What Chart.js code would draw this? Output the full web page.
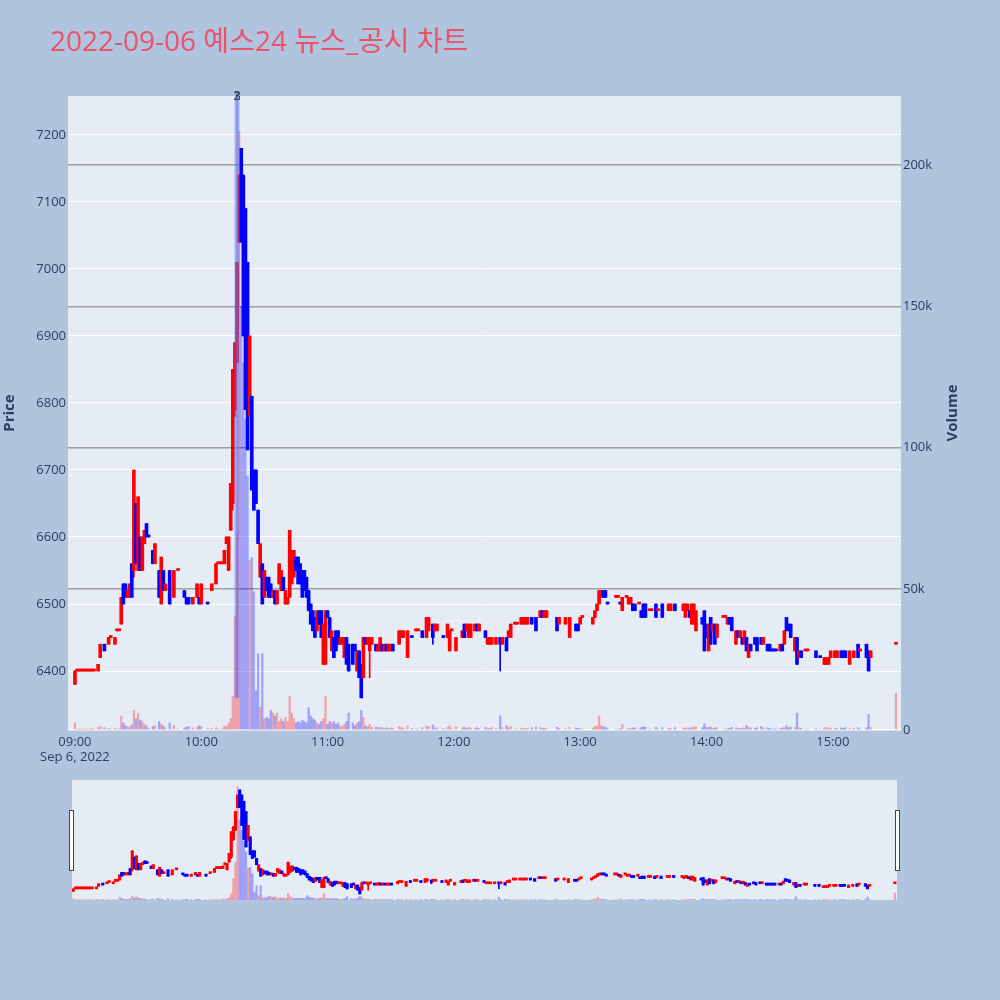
<!DOCTYPE html>
<html>
<head>
<meta charset="utf-8">
<script src="https://cdn.jsdelivr.net/npm/chart.js@4.4.1/dist/chart.umd.min.js"></script>
<style>
  html, body { margin: 0; padding: 0; background: #b0c4de; }
  #wrap { position: relative; width: 1000px; height: 1000px; overflow: hidden; }
  #title {
    position: absolute; left: 50px; top: 21px;
    font-family: "Open Sans", "Noto Sans CJK KR", sans-serif;
    font-size: 28px; line-height: 38px; color: #e9536b; white-space: nowrap;
  }
  #main { position: absolute; left: 0; top: 0; }
  #mini { position: absolute; left: 72px; top: 780px; }
  .handle { position: absolute; top: 810px; width: 3px; height: 59px; background: #fff; border: 1px solid #444; }
</style>
</head>
<body>
<div id="wrap">
  <canvas id="main" width="1000" height="770"></canvas>
  <canvas id="mini" width="825" height="120"></canvas>
  <div class="handle" style="left:69px"></div>
  <div class="handle" style="left:895px"></div>
  <div id="title">2022-09-06 예스24 뉴스_공시 차트</div>
</div>
<script>
// minutes after 09:00
const minutes = [
  0,1,2,3,4,5,6,7,8,9,
  11,12,14,16,17,19,20,21,22,23,
  24,25,26,27,28,29,30,31,32,33,
  34,35,37,38,40,41,42,43,45,47,
  49,52,53,54,56,58,59,60,63,65,
  67,68,69,70,71,72,73,74,75,76,
  77,78,79,80,81,82,83,84,85,86,
  87,88,89,90,91,92,93,94,95,96,
  97,98,99,100,101,102,103,104,105,106,
  107,108,109,110,111,112,113,114,115,116,
  117,118,119,120,121,122,123,124,125,126,
  127,128,129,130,132,133,134,135,136,137,
  138,139,140,141,143,144,145,146,147,148,
  149,150,151,154,155,156,158,160,162,163,
  165,167,168,170,171,172,175,177,178,179,
  181,184,185,186,187,188,190,191,192,195,
  196,197,198,200,202,203,205,206,207,209,
  210,212,213,214,215,217,219,221,222,223,
  224,229,230,233,235,238,239,240,241,246,
  247,248,249,250,251,252,253,257,258,259,
  260,262,263,264,265,266,268,269,270,271,
  273,274,276,277,279,282,283,285,289,290,
  291,292,293,294,295,298,299,300,301,302,
  303,304,305,308,309,310,311,312,314,315,
  316,317,318,319,320,321,323,324,326,327,
  329,330,331,332,333,335,336,337,338,339,
  340,342,343,344,345,347,348,352,354,356,
  357,358,359,361,362,364,365,366,368,370,
  372,373,376,377,378,390
];

const opens = [
  6380,6400,6400,6400,6400,6400,6400,6400,6400,6400,
  6400,6420,6440,6440,6450,6440,6460,6460,6470,6530,
  6530,6510,6510,6560,6550,6650,6550,6600,6550,6590,
  6620,6600,6580,6560,6550,6500,6550,6520,6550,6510,
  6550,6520,6510,6510,6500,6510,6510,6500,6500,6520,
  6530,6560,6560,6560,6560,6590,6550,6610,6650,6790,
  6860,7040,7180,7140,7090,7010,6780,6810,6700,6700,
  6640,6540,6560,6510,6540,6540,6530,6510,6520,6500,
  6530,6520,6540,6500,6500,6510,6530,6540,6570,6570,
  6560,6550,6550,6540,6520,6500,6490,6480,6460,6490,
  6490,6410,6410,6490,6480,6430,6450,6460,6460,6440,
  6440,6420,6450,6440,6440,6440,6400,6430,6410,6390,
  6450,6440,6430,6440,6440,6430,6430,6440,6430,6440,
  6430,6430,6440,6440,6450,6450,6420,6450,6460,6460,
  6460,6450,6460,6470,6460,6460,6450,6450,6430,6460,
  6430,6450,6470,6460,6450,6450,6460,6470,6460,6460,
  6440,6440,6440,6440,6450,6440,6450,6450,6450,6470,
  6470,6470,6470,6470,6470,6480,6480,6480,6490,6480,
  6480,6480,6470,6470,6450,6470,6470,6470,6480,6470,
  6480,6490,6500,6510,6520,6520,6500,6510,6510,6500,
  6490,6510,6500,6500,6500,6500,6500,6490,6500,6500,
  6490,6490,6500,6490,6500,6490,6490,6500,6490,6480,
  6490,6490,6470,6470,6460,6480,6490,6470,6430,6480,
  6460,6470,6450,6480,6480,6470,6480,6480,6440,6460,
  6450,6450,6440,6450,6420,6440,6450,6450,6450,6440,
  6440,6440,6430,6430,6430,6430,6440,6440,6480,6470,
  6470,6430,6450,6420,6430,6430,6430,6430,6420,6410,
  6410,6410,6420,6420,6420,6430,6430,6430,6410,6420,
  6440,6430,6440,6430,6420,6440
];

const highs = [
  6400,6400,6400,6400,6400,6400,6400,6400,6400,6400,
  6410,6440,6440,6450,6450,6450,6460,6460,6510,6530,
  6530,6520,6530,6560,6700,6650,6660,6600,6600,6610,
  6620,6600,6580,6590,6550,6570,6550,6530,6550,6550,
  6550,6520,6510,6510,6510,6530,6510,6530,6500,6530,
  6560,6560,6560,6560,6580,6600,6600,6680,6850,6890,
  7010,7140,7180,7140,7090,7010,6900,6810,6700,6700,
  6640,6590,6560,6550,6540,6540,6530,6520,6520,6520,
  6560,6550,6540,6520,6510,6610,6580,6580,6570,6570,
  6560,6550,6550,6540,6520,6500,6490,6480,6490,6490,
  6490,6470,6490,6490,6480,6460,6450,6460,6460,6450,
  6450,6450,6450,6440,6440,6440,6430,6430,6410,6450,
  6450,6450,6450,6450,6440,6440,6450,6440,6440,6440,
  6440,6440,6440,6460,6460,6460,6460,6450,6460,6460,
  6460,6480,6480,6470,6470,6470,6450,6470,6460,6460,
  6450,6460,6470,6470,6470,6470,6470,6470,6470,6460,
  6450,6450,6450,6450,6450,6450,6450,6460,6470,6470,
  6470,6480,6480,6480,6480,6480,6480,6490,6490,6490,
  6490,6480,6480,6480,6480,6470,6470,6480,6480,6480,
  6490,6500,6520,6520,6520,6520,6500,6510,6510,6500,
  6510,6510,6510,6510,6500,6500,6500,6490,6500,6500,
  6490,6490,6500,6490,6500,6500,6500,6500,6500,6500,
  6500,6490,6500,6500,6490,6480,6490,6470,6470,6480,
  6470,6470,6470,6480,6480,6480,6480,6480,6460,6460,
  6460,6450,6460,6450,6440,6440,6450,6450,6450,6450,
  6440,6440,6430,6430,6430,6440,6440,6460,6480,6470,
  6470,6450,6450,6430,6430,6430,6430,6430,6420,6420,
  6420,6420,6430,6430,6430,6430,6430,6430,6430,6430,
  6440,6430,6440,6430,6430,6440
];

const lows = [
  6380,6400,6400,6400,6400,6400,6400,6400,6400,6400,
  6400,6420,6430,6440,6450,6440,6460,6460,6470,6500,
  6510,6510,6510,6510,6540,6560,6550,6550,6550,6590,
  6600,6600,6560,6560,6510,6500,6520,6520,6500,6510,
  6550,6510,6500,6500,6500,6510,6500,6500,6500,6520,
  6530,6560,6560,6560,6560,6590,6550,6610,6640,6780,
  6860,7040,7040,6900,6790,6730,6780,6670,6640,6650,
  6590,6540,6500,6510,6520,6510,6510,6510,6500,6500,
  6530,6520,6520,6500,6500,6510,6530,6540,6550,6530,
  6530,6510,6520,6510,6490,6470,6460,6450,6460,6470,
  6450,6410,6410,6480,6450,6430,6420,6430,6440,6440,
  6440,6420,6410,6400,6410,6430,6400,6390,6360,6390,
  6440,6440,6390,6440,6430,6430,6430,6430,6430,6430,
  6430,6430,6430,6440,6450,6450,6420,6450,6460,6460,
  6450,6450,6460,6440,6460,6460,6450,6450,6430,6460,
  6430,6450,6450,6460,6450,6450,6460,6460,6460,6450,
  6440,6440,6440,6440,6400,6440,6430,6450,6450,6470,
  6470,6470,6470,6470,6470,6470,6460,6480,6480,6480,
  6480,6460,6470,6470,6450,6460,6460,6470,6480,6470,
  6480,6490,6500,6510,6510,6510,6500,6510,6510,6500,
  6490,6510,6500,6500,6490,6490,6500,6480,6480,6480,
  6490,6490,6480,6490,6480,6490,6490,6490,6490,6480,
  6490,6480,6470,6470,6460,6470,6430,6450,6430,6440,
  6460,6440,6450,6480,6480,6470,6470,6460,6440,6450,
  6450,6440,6440,6430,6420,6430,6440,6430,6440,6440,
  6430,6430,6430,6430,6430,6430,6430,6440,6460,6460,
  6450,6430,6410,6420,6420,6430,6430,6420,6420,6410,
  6410,6410,6420,6420,6420,6420,6420,6420,6410,6420,
  6420,6430,6420,6400,6420,6440
];

const closes = [
  6400,6400,6400,6400,6400,6400,6400,6400,6400,6400,
  6410,6440,6430,6450,6450,6450,6460,6460,6510,6500,
  6510,6520,6530,6510,6700,6560,6660,6550,6600,6610,
  6600,6600,6560,6590,6510,6570,6520,6530,6500,6550,
  6550,6510,6500,6500,6510,6530,6500,6530,6500,6530,
  6560,6560,6560,6560,6580,6600,6600,6680,6850,6890,
  7010,7140,7040,6900,6790,6730,6900,6670,6640,6650,
  6590,6590,6500,6550,6520,6510,6510,6520,6500,6520,
  6560,6550,6520,6520,6510,6610,6580,6580,6550,6530,
  6530,6510,6520,6510,6490,6470,6460,6450,6490,6470,
  6450,6470,6490,6480,6450,6460,6420,6430,6440,6450,
  6450,6450,6410,6400,6410,6430,6430,6390,6360,6450,
  6440,6450,6450,6450,6430,6440,6450,6430,6440,6430,
  6440,6440,6430,6460,6460,6460,6460,6450,6460,6460,
  6450,6480,6480,6450,6470,6470,6450,6470,6460,6460,
  6450,6460,6450,6470,6470,6470,6470,6460,6470,6450,
  6450,6450,6450,6450,6440,6450,6430,6460,6470,6470,
  6470,6480,6480,6480,6480,6470,6460,6490,6480,6490,
  6490,6460,6480,6480,6480,6460,6460,6480,6480,6480,
  6490,6500,6520,6520,6510,6510,6500,6510,6510,6500,
  6510,6510,6510,6510,6490,6490,6500,6480,6480,6480,
  6490,6490,6480,6490,6480,6500,6500,6490,6500,6500,
  6500,6480,6500,6500,6490,6470,6430,6450,6470,6440,
  6470,6440,6470,6480,6480,6480,6470,6460,6460,6450,
  6460,6440,6460,6430,6440,6430,6440,6430,6440,6450,
  6430,6430,6430,6430,6430,6440,6430,6460,6460,6460,
  6450,6450,6410,6430,6420,6430,6430,6420,6420,6420,
  6420,6420,6430,6430,6430,6420,6420,6420,6430,6430,
  6420,6430,6420,6400,6430,6440
];

const volumes = [
  2500,300,200,300,200,400,300,200,500,300,
  900,1200,800,600,300,700,300,400,5000,2500,
  1500,1200,1000,1800,7000,4000,6000,3500,3000,2000,
  1500,500,1200,1500,3000,2000,1500,800,2500,1500,
  300,800,1000,1200,700,900,1500,1200,400,600,
  800,300,300,400,1500,1200,2500,4000,12000,40000,
  70000,212000,150000,130000,110000,90000,60000,61000,49000,14000,
  27000,8000,27000,4000,4500,4000,7000,6000,5000,6000,
  3000,4000,3000,4500,3000,12000,6000,4000,2500,3000,
  2500,3500,3000,2500,8000,5000,4000,3500,2500,2000,
  3000,4000,12000,2000,3000,2500,3000,2000,2500,1500,
  1200,2000,3000,6000,2500,1500,2500,3000,7000,4500,
  1500,1200,2000,1000,1000,800,1000,700,600,800,
  500,700,600,1200,800,700,1500,500,400,300,
  800,1500,1200,1800,800,700,500,1000,1500,400,
  1200,800,1000,600,900,700,600,800,500,900,
  700,600,800,500,5000,900,1500,800,1200,300,
  300,700,600,500,600,700,1000,800,600,700,
  500,1000,600,500,900,700,600,500,300,700,
  1200,1500,5000,1500,1200,900,500,300,300,400,
  2000,300,600,500,800,700,400,900,1200,1000,
  300,300,900,300,800,700,600,800,600,800,
  500,700,1000,900,1200,800,2200,900,1000,1000,
  600,800,700,300,300,500,600,900,800,600,
  500,700,600,1500,1000,700,600,800,1200,700,
  800,600,300,400,300,600,700,900,1500,800,
  1000,900,6000,700,600,300,300,500,300,800,
  900,700,600,500,600,700,600,800,700,600,
  800,300,800,5500,900,13000
];

// news / disclosure markers (minutes after 09:00)
const newsTimes = [76.8, 77.0, 77.2];
const newsLabels = ["1", "2", "3"];

const UP = "#ff0000";
const DOWN = "#0000ff";
const UP_VOL = "rgba(255, 0, 0, 0.3)";
const DOWN_VOL = "rgba(0, 0, 255, 0.3)";
const TEXT = "#2a3f5f";
const PLOT_BG = "#e5ecf6";
const VOL_STEP = 50000;

Chart.defaults.font.family = '"Open Sans", "Noto Sans CJK KR", sans-serif';
Chart.defaults.color = TEXT;

// plotly-like direction: ties keep the previous direction
const dirs = [];
closes.forEach((c, i) => {
    const o = opens[i];
    let d;
    if (c > o) d = 1;
    else if (c < o) d = -1;
    else if (i === 0) d = 1;
    else if (c > closes[i - 1]) d = 1;
    else if (c < closes[i - 1]) d = -1;
    else d = dirs[i - 1];
    dirs.push(d);
});

const candleColor = (ctx) => (dirs[ctx.dataIndex] > 0 ? UP : DOWN);
const volumeColor = (ctx) => (dirs[ctx.dataIndex] > 0 ? UP_VOL : DOWN_VOL);

const buildDatasets = (bodyWidth, volWidth) => [
    {
        label: "body",
        data: minutes.map((m, i) => ({ x: m, y: [opens[i], closes[i]] })),
        backgroundColor: candleColor,
        barThickness: bodyWidth,
        minBarLength: 2,
        grouped: false,
        yAxisID: "y",
        order: 1,
    },
    {
        label: "wick",
        data: minutes.map((m, i) => ({ x: m, y: [lows[i], highs[i]] })),
        backgroundColor: candleColor,
        barThickness: 1,
        grouped: false,
        yAxisID: "y",
        order: 2,
    },
    {
        label: "volume",
        data: minutes.map((m, i) => ({ x: m, y: volumes[i] })),
        backgroundColor: volumeColor,
        barThickness: volWidth,
        grouped: false,
        yAxisID: "yv",
        order: 3,
    },
];

const plotBg = {
    id: "plotBg",
    beforeDraw(chart) {
        const { ctx, chartArea: a } = chart;
        ctx.save();
        ctx.fillStyle = PLOT_BG;
        ctx.fillRect(a.left, a.top, a.right - a.left, a.bottom - a.top);
        ctx.restore();
    },
};

const newsMarks = {
    id: "newsMarks",
    afterDatasetsDraw(chart) {
        const { ctx, chartArea: a, scales } = chart;
        const yLow = scales.y.getPixelForValue(Math.min(...lows));
        ctx.save();
        newsTimes.forEach((t, i) => {
            const x = scales.x.getPixelForValue(t);
            ctx.strokeStyle = "rgba(90, 110, 250, 0.18)";
            ctx.lineWidth = 5;
            ctx.beginPath();
            ctx.moveTo(x, a.top);
            ctx.lineTo(x, yLow);
            ctx.stroke();
            ctx.strokeStyle = "rgba(90, 110, 250, 0.3)";
            ctx.lineWidth = 1;
            ctx.stroke();
            ctx.fillStyle = TEXT;
            ctx.font = '12px "Open Sans"';
            ctx.textAlign = "center";
            ctx.textBaseline = "middle";
            ctx.fillText(newsLabels[i], x, a.top + 1);
        });
        ctx.restore();
    },
};

const volumeTitle = {
    id: "volumeTitle",
    afterDraw(chart) {
        const { ctx, chartArea: a } = chart;
        ctx.save();
        ctx.translate(953, (a.top + a.bottom) / 2);
        ctx.rotate(-Math.PI / 2);
        ctx.fillStyle = TEXT;
        ctx.font = 'bold 15px "Open Sans"';
        ctx.textAlign = "center";
        ctx.textBaseline = "middle";
        ctx.fillText("Volume", 0, 0);
        ctx.restore();
    },
};

const fmtTime = (v) => {
    const h = 9 + Math.floor(v / 60);
    const m = v % 60;
    return String(h).padStart(2, "0") + ":" + String(m).padStart(2, "0");
};

new Chart(document.getElementById("main"), {
    type: "bar",
    data: { datasets: buildDatasets(3, 1.6) },
    options: {
        responsive: false,
        animation: false,
        events: [],
        layout: { padding: { top: 96, left: 0, right: 0, bottom: 0 } },
        plugins: { legend: { display: false }, tooltip: { enabled: false } },
        scales: {
            x: {
                type: "linear",
                offset: false,
                min: -3.3,
                max: 392.4,
                grid: { display: false, drawTicks: false },
                border: { display: false },
                ticks: {
                    stepSize: 60,
                    includeBounds: false,
                    maxRotation: 0,
                    padding: 4,
                    font: { size: 13 },
                    color: TEXT,
                    callback: (v) => (v === 0 ? [fmtTime(v), "Sep 6, 2022"] : fmtTime(v)),
                },
                afterFit: (s) => { s.height = 40; },
            },
            y: {
                position: "left",
                min: 6312,
                max: 7258,
                grid: { color: "#ffffff", lineWidth: 1, drawTicks: false },
                border: { display: false },
                ticks: {
                    stepSize: 100,
                    includeBounds: false,
                    padding: 2,
                    font: { size: 13 },
                    color: TEXT,
                    callback: (v) => String(v),
                },
                title: {
                    display: true,
                    text: "Price",
                    color: TEXT,
                    padding: { top: 1, bottom: 0 },
                    font: { size: 15, weight: "bold" },
                },
                afterFit: (s) => { s.width = 68; },
            },
            yv: {
                position: "right",
                min: 0,
                max: 224500,
                grid: {
                    drawTicks: false,
                    lineWidth: 1.5,
                    color: (c) => (c.tick && c.tick.value === 0 ? "#ffffff" : "rgba(120, 120, 120, 0.65)"),
                },
                border: { display: false },
                ticks: {
                    padding: 2,
                    font: { size: 13 },
                    color: TEXT,
                    callback: (v) => (v === 0 ? "0" : v / 1000 + "k"),
                },
                afterBuildTicks: (s) => {
                    const t = [];
                    for (let v = 0; v <= s.max; v += VOL_STEP) t.push({ value: v });
                    s.ticks = t;
                },
                afterFit: (s) => { s.width = 99; },
            },
        },
    },
    plugins: [plotBg, newsMarks, volumeTitle],
});

// range slider preview
new Chart(document.getElementById("mini"), {
    type: "bar",
    data: { datasets: buildDatasets(2.5, 1.6) },
    options: {
        responsive: false,
        animation: false,
        events: [],
        layout: { padding: 0 },
        plugins: { legend: { display: false }, tooltip: { enabled: false } },
        scales: {
            x: { type: "linear", display: false, offset: false, min: -0.6, max: 391 },
            y: { display: false, min: 6312, max: 7258 },
            yv: { display: false, min: 0, max: 224500 },
        },
    },
    plugins: [plotBg],
});
</script>
</body>
</html>
